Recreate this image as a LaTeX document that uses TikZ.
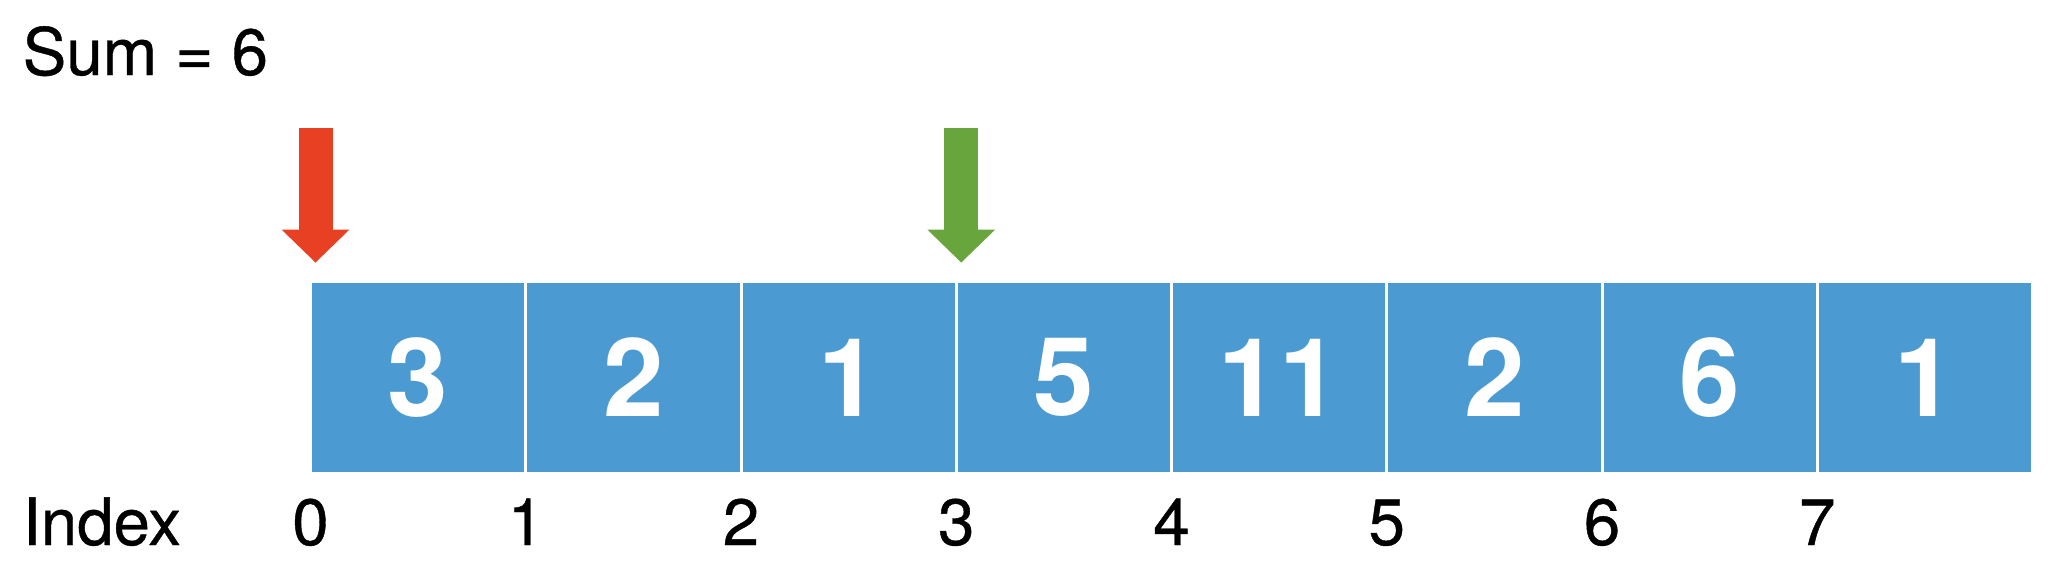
\documentclass[tikz,border=0pt]{standalone}
\usepackage{fontspec}
\setmainfont{TeX Gyre Heros}
\newfontfamily\medio[FakeBold=0.6]{TeX Gyre Heros}
\usetikzlibrary{arrows.meta}
\definecolor{azul}{RGB}{75,155,210}
\definecolor{rojo}{RGB}{232,64,35}
\definecolor{verde}{RGB}{104,165,60}

\begin{document}
\begin{tikzpicture}[
    celda/.style={fill=azul, draw=white, line width=0.03cm, minimum width=2.1525cm, minimum height=1.92cm,
        inner sep=0pt, outer sep=0pt, text=white, font=\fontsize{31}{31}\selectfont\bfseries},
    indice/.style={anchor=base, inner sep=0pt, font=\fontsize{18.6}{22}\selectfont\medio},
    puntero/.style={line width=0.34cm, -{Triangle[width=0.68cm,length=0.33cm,line width=0pt]}}
]

    \useasboundingbox (0,0) rectangle (20.62,5.82);
    % Suma
    \node[indice, anchor=base west] (suma) at (0.22,5.07) {Sum = 6};
    % Celdas
    \foreach \v [count=\i from 0] in {3,2,1,5,11,2,6,1}
        \node[celda, anchor=south west] (c\i) at ({3.105+2.1525*\i},1.085) {\v};
    % Indices
    \node[indice, anchor=base west] (index) at (0.22,0.37) {Index};
    \foreach \i in {0,...,7}
        \node[indice] (i\i) at (c\i.south west |- index.base) {\i};
    % Punteros
    \coordinate (izq) at ([xshift=0.05cm,yshift=0.19cm]c0.north west);
    \coordinate (izqtop) at ([yshift=1.35cm]izq);
    \coordinate (der) at ([xshift=0.05cm,yshift=0.19cm]c3.north west);
    \coordinate (dertop) at ([yshift=1.35cm]der);
    \draw[puntero, rojo] (izqtop) -- (izq); % inicio
    \draw[puntero, verde] (dertop) -- (der); % fin
\end{tikzpicture}
\end{document}
